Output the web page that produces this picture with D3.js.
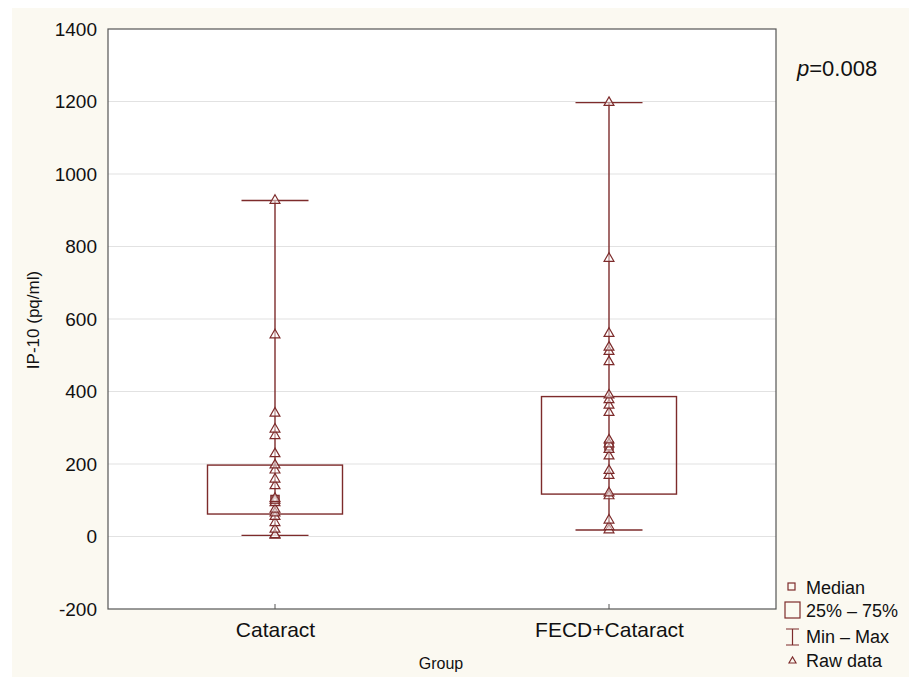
<!DOCTYPE html>
<html lang="en">
<head>
<meta charset="utf-8">
<title>IP-10 by group</title>
<script src="https://cdn.jsdelivr.net/npm/d3@7"></script>
<style>
  html, body { margin: 0; padding: 0; background: #fff; }
  svg { display: block; font-family: "Liberation Sans", Arial, sans-serif; }
</style>
</head>
<body>
<div id="chart"></div>
<script>
// groups and data
var groups = ["Cataract", "FECD+Cataract"];
var cataractRaw = [3, 5, 20, 38, 55, 65, 75, 93, 100, 105, 140, 158, 183, 197, 228, 278, 296, 340, 556, 927];
var fecdRaw = [18, 27, 45, 112, 120, 168, 182, 222, 240, 255, 266, 342, 362, 377, 390, 482, 510, 522, 560, 767, 1197];
var mins = [3, 18];
var q1s = [62, 117];
var medians = [102, 250];
var q3s = [197, 386];
var maxs = [927, 1197];
var yTicks = [-200, 0, 200, 400, 600, 800, 1000, 1200, 1400];

var W = 909, H = 677;
var plotL = 108, plotR = 776, plotT = 29, plotB = 609;
var red = "#7d2b2b";

var svg = d3.select("#chart").append("svg").attr("width", W).attr("height", H);

svg.append("rect").attr("x", 12).attr("y", 8).attr("width", W - 12).attr("height", H - 8).attr("fill", "#fbf9f1");
svg.append("rect").attr("x", plotL).attr("y", plotT).attr("width", plotR - plotL).attr("height", plotB - plotT).attr("fill", "#fff");

var x = d3.scalePoint().domain(groups).range([plotL, plotR]).padding(0.5);
var y = d3.scaleLinear().domain([-200, 1400]).range([plotB, plotT]);
var boxW = 135, capW = 67;

// grid
svg.append("g").selectAll("line").data(yTicks.slice(1, -1)).enter().append("line")
  .attr("x1", plotL).attr("x2", plotR)
  .attr("y1", function(d) { return y(d); }).attr("y2", function(d) { return y(d); })
  .attr("stroke", "#e2e2e2").attr("stroke-width", 1.2);

// y axis
var yAxis = svg.append("g").attr("transform", "translate(" + plotL + ",0)")
  .call(d3.axisLeft(y).tickValues(yTicks).tickFormat(function(d) { return String(d); }).tickSize(0).tickPadding(11));
yAxis.select(".domain").remove();
yAxis.selectAll("text").attr("font-size", 19).attr("fill", "#111").attr("font-family", "Liberation Sans, Arial, sans-serif");

// x axis
var xAxis = svg.append("g").attr("transform", "translate(0," + plotB + ")")
  .call(d3.axisBottom(x).tickSize(0).tickPadding(13));
xAxis.select(".domain").remove();
xAxis.selectAll("text").attr("font-size", 21).attr("fill", "#111").attr("font-family", "Liberation Sans, Arial, sans-serif");
svg.append("g").selectAll("line").data(groups).enter().append("line")
  .attr("x1", function(d) { return x(d); }).attr("x2", function(d) { return x(d); })
  .attr("y1", plotB).attr("y2", plotB - 5).attr("stroke", "#555");

svg.append("rect").attr("x", plotL).attr("y", plotT).attr("width", plotR - plotL).attr("height", plotB - plotT)
  .attr("fill", "none").attr("stroke", "#555").attr("stroke-width", 1.2);

// whiskers, boxes, medians
var g = svg.append("g");
groups.forEach(function(name, i) {
  var cx = x(name);
  g.append("line").attr("x1", cx).attr("x2", cx).attr("y1", y(mins[i])).attr("y2", y(maxs[i]))
    .attr("stroke", red).attr("stroke-width", 1.4);
  [mins[i], maxs[i]].forEach(function(v) {
    g.append("line").attr("x1", cx - capW / 2).attr("x2", cx + capW / 2).attr("y1", y(v)).attr("y2", y(v))
      .attr("stroke", red).attr("stroke-width", 1.4);
  });
  g.append("rect").attr("x", cx - boxW / 2).attr("y", y(q3s[i])).attr("width", boxW).attr("height", y(q1s[i]) - y(q3s[i]))
    .attr("fill", "none").attr("stroke", red).attr("stroke-width", 1.4);
  g.append("rect").attr("x", cx - 4).attr("y", y(medians[i]) - 4).attr("width", 8).attr("height", 8)
    .attr("fill", "#fff").attr("stroke", red).attr("stroke-width", 1.6);
});

// raw data triangles
var tri = d3.symbol().type(d3.symbolTriangle).size(42);
[cataractRaw, fecdRaw].forEach(function(vals, i) {
  g.append("g").selectAll("path").data(vals).enter().append("path")
    .attr("d", tri)
    .attr("transform", function(d) { return "translate(" + x(groups[i]) + "," + y(d) + ")"; })
    .attr("fill", "rgba(255,255,255,0.5)").attr("stroke", red).attr("stroke-width", 1.2);
});

// labels
svg.append("text").attr("transform", "translate(39,320) rotate(-90)").attr("text-anchor", "middle")
  .attr("font-size", 17).attr("fill", "#111").text("IP-10 (pq/ml)");
svg.append("text").attr("x", 441).attr("y", 669).attr("text-anchor", "middle")
  .attr("font-size", 16).attr("fill", "#111").text("Group");
var pt = svg.append("text").attr("x", 797).attr("y", 76).attr("font-size", 22).attr("fill", "#111");
pt.append("tspan").attr("font-style", "italic").text("p");
pt.append("tspan").text("=0.008");

// legend
var lg = svg.append("g").attr("font-size", 18).attr("fill", "#111");
lg.append("rect").attr("x", 788).attr("y", 583).attr("width", 7).attr("height", 7).attr("fill", "none").attr("stroke", red).attr("stroke-width", 1.2);
lg.append("text").attr("x", 806).attr("y", 594).text("Median");
lg.append("rect").attr("x", 785).attr("y", 602).attr("width", 15).attr("height", 16).attr("fill", "none").attr("stroke", red).attr("stroke-width", 1.2);
lg.append("text").attr("x", 806).attr("y", 617).text("25% \u2013 75%");
lg.append("path").attr("d", "M786,629H799M792.5,629V645M786,645H799").attr("fill", "none").attr("stroke", red).attr("stroke-width", 1.2);
lg.append("text").attr("x", 806).attr("y", 643).text("Min \u2013 Max");
lg.append("path").attr("d", tri.size(22)).attr("transform", "translate(792.5,661)").attr("fill", "none").attr("stroke", red).attr("stroke-width", 1.1);
lg.append("text").attr("x", 806).attr("y", 667).text("Raw data");
</script>
</body>
</html>
